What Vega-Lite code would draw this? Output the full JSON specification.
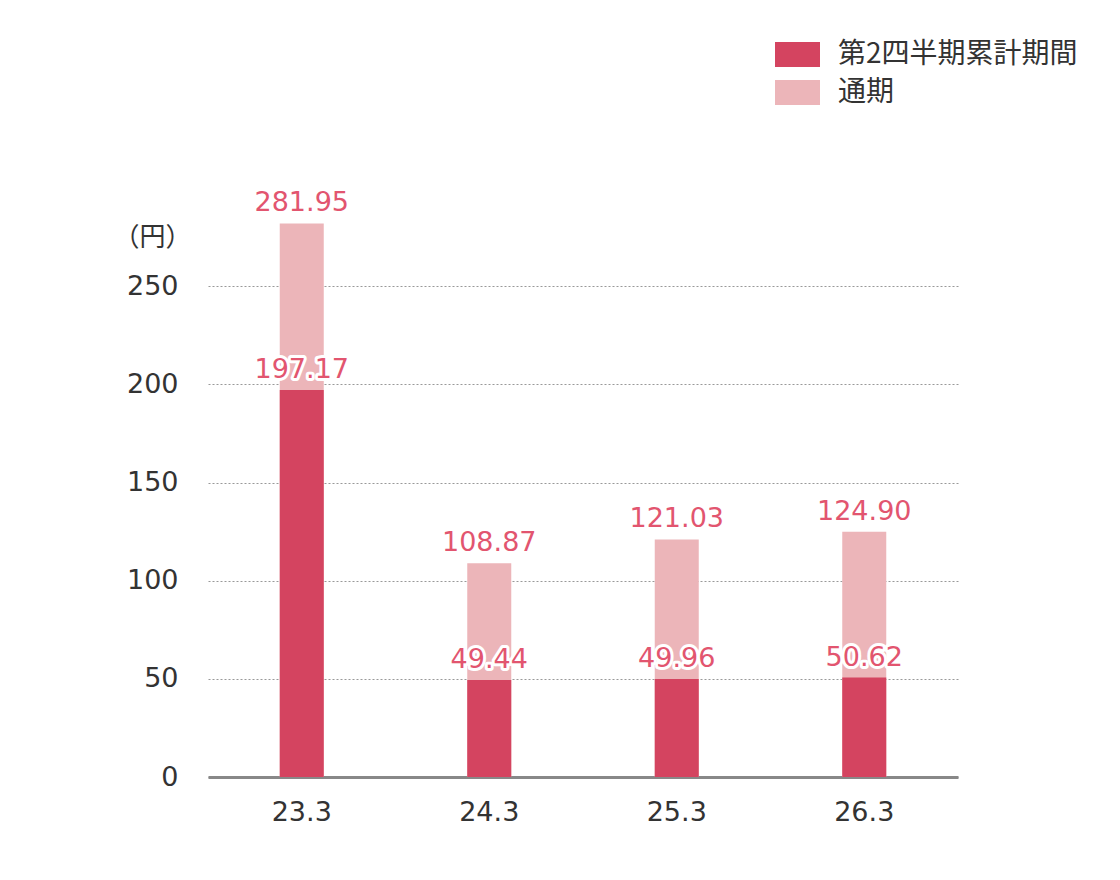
{
  "$schema": "https://vega.github.io/schema/vega-lite/v6.json",
  "description": "配当金の推移（第2四半期累計期間・通期）",
  "autosize": {"type": "none"},
  "width": 750,
  "height": 589,
  "padding": {"left": 208, "top": 188, "right": 162, "bottom": 103},
  "background": "white",
  "config": {
    "view": {"stroke": null},
    "font": "DejaVu Sans",
    "axis": {"labelColor": "#333333", "labelFontSize": 27, "labelFont": "DejaVu Sans", "ticks": false}
  },
  "data": {
    "values": [
      {"year": "23.3", "type": "通期", "value": 281.95},
      {"year": "24.3", "type": "通期", "value": 108.87},
      {"year": "25.3", "type": "通期", "value": 121.03},
      {"year": "26.3", "type": "通期", "value": 124.90},
      {"year": "23.3", "type": "第2四半期累計期間", "value": 197.17},
      {"year": "24.3", "type": "第2四半期累計期間", "value": 49.44},
      {"year": "25.3", "type": "第2四半期累計期間", "value": 49.96},
      {"year": "26.3", "type": "第2四半期累計期間", "value": 50.62}
    ]
  },
  "encoding": {
    "x": {
      "field": "year",
      "type": "nominal",
      "sort": null,
      "axis": {
        "title": null,
        "labelAngle": 0,
        "labelPadding": 22,
        "domainColor": "#888888",
        "domainWidth": 3,
        "grid": false
      }
    },
    "y": {
      "field": "value",
      "type": "quantitative",
      "stack": null,
      "scale": {"domain": [0, 300], "nice": false},
      "axis": {
        "values": [0, 50, 100, 150, 200, 250],
        "domain": false,
        "labelPadding": 30,
        "gridColor": "#999999",
        "gridDash": [2, 2],
        "gridWidth": 1.2,
        "title": "（円）",
        "titleAngle": 0,
        "titleFont": "Noto Sans CJK JP",
        "titleFontSize": 26,
        "titleFontWeight": "normal",
        "titleColor": "#333333",
        "titleAlign": "center",
        "titleBaseline": "middle",
        "titleX": -56,
        "titleY": 49
      }
    }
  },
  "layer": [
    {
      "transform": [{"filter": "datum.type === '通期'"}],
      "mark": {"type": "bar", "size": 44},
      "encoding": {
        "color": {
          "field": "type",
          "type": "nominal",
          "scale": {"domain": ["第2四半期累計期間", "通期"], "range": ["#d44460", "#ecb5b9"]},
          "legend": {
            "title": null,
            "orient": "none",
            "legendX": 567,
            "legendY": -156,
            "padding": 0,
            "symbolType": "M-1,-0.56H1V0.56H-1Z",
            "symbolSize": 2025,
            "symbolStrokeWidth": 0,
            "symbolOpacity": 1,
            "labelFont": "Noto Sans CJK JP",
            "labelFontSize": 28,
            "labelColor": "#333333",
            "labelOffset": 18,
            "labelLimit": 400,
            "rowPadding": 1
          }
        }
      }
    },
    {
      "transform": [{"filter": "datum.type === '第2四半期累計期間'"}],
      "mark": {"type": "bar", "size": 44},
      "encoding": {"color": {"field": "type", "type": "nominal"}}
    },
    {
      "mark": {"type": "text", "baseline": "alphabetic", "dy": -12, "fontSize": 27, "fill": "white", "stroke": "white", "strokeWidth": 6, "strokeJoin": "round"},
      "encoding": {"text": {"field": "value", "type": "quantitative", "format": ".2f"}}
    },
    {
      "mark": {"type": "text", "baseline": "alphabetic", "dy": -12, "fontSize": 27, "color": "#e2556f"},
      "encoding": {"text": {"field": "value", "type": "quantitative", "format": ".2f"}}
    }
  ]
}
